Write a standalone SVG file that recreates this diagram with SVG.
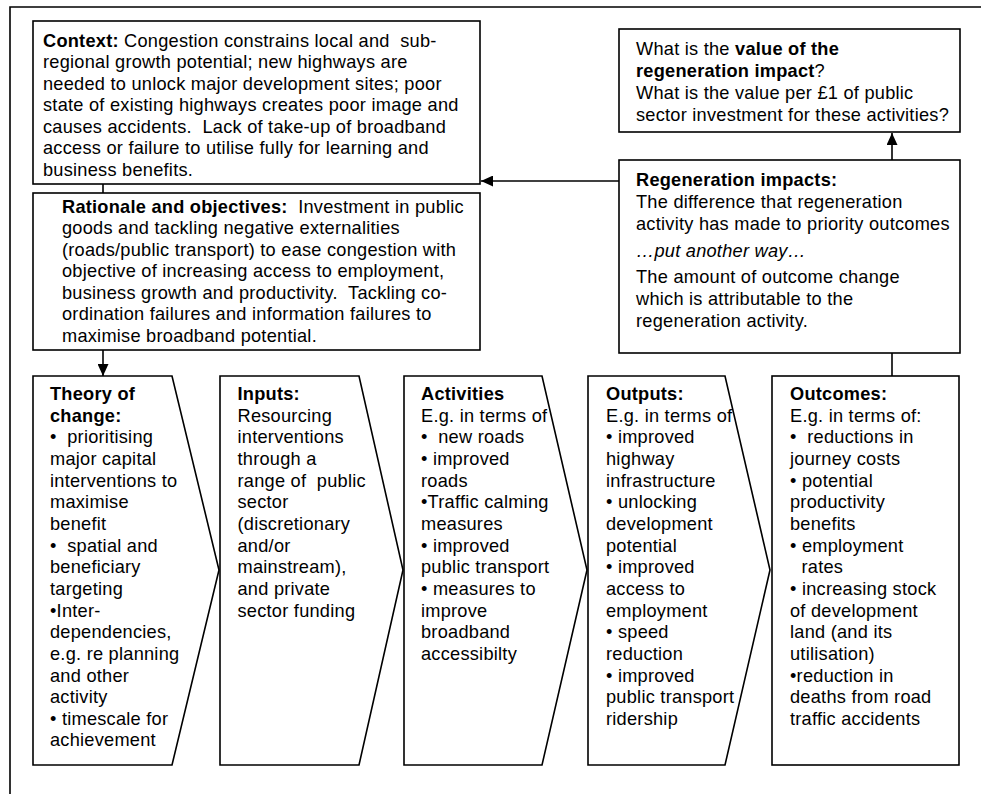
<svg xmlns="http://www.w3.org/2000/svg" width="981" height="794" viewBox="0 0 981 794">
  <style>
    .box { fill: #ffffff; stroke: #000000; stroke-width: 1.6; }
    .frame { fill: none; stroke: #000000; stroke-width: 1.6; }
    .link { fill: none; stroke: #000000; stroke-width: 1.6; }
    text { font-family: "Liberation Sans", Arial, sans-serif; font-size: 18.2px; letter-spacing: 0.25px; fill: #000000; white-space: pre; }
    .b { font-weight: bold; }
    .i { font-style: italic; }
  </style>
  <defs>
    <marker id="arrow" viewBox="0 0 12 11" refX="12" refY="5.5" markerWidth="12" markerHeight="11" markerUnits="userSpaceOnUse" orient="auto">
      <path d="M0,0 L12,5.5 L0,11 z" fill="#000000"/>
    </marker>
  </defs>

  <rect width="981" height="794" fill="#ffffff"/>
  <!-- outer frame (runs off the right and bottom edges) -->
  <path class="frame" d="M10,794 L10,7 L981,7"/>

  <!-- connectors -->
  <g id="connectors">
    <line class="link" x1="103" y1="184" x2="103" y2="193"/>
    <line class="link" x1="103" y1="350" x2="103" y2="376" marker-end="url(#arrow)"/>
    <line class="link" x1="619" y1="181" x2="481" y2="181" marker-end="url(#arrow)"/>
    <line class="link" x1="892" y1="160" x2="892" y2="133" marker-end="url(#arrow)"/>
    <line class="link" x1="892" y1="353" x2="892" y2="376"/>
  </g>

  <g id="context">
    <rect class="box" x="33" y="21" width="447" height="163"/>
    <text x="43" y="46.5"><tspan class="b">Context:</tspan> Congestion constrains local and  sub-</text>
    <text x="43" y="68">regional growth potential; new highways are</text>
    <text x="43" y="89.5">needed to unlock major development sites; poor</text>
    <text x="43" y="111">state of existing highways creates poor image and</text>
    <text x="43" y="132.5">causes accidents.  Lack of take-up of broadband</text>
    <text x="43" y="154">access or failure to utilise fully for learning and</text>
    <text x="43" y="175.5">business benefits.</text>
  </g>

  <g id="rationale">
    <rect class="box" x="33" y="193" width="447" height="157"/>
    <text x="62" y="212.5"><tspan class="b">Rationale and objectives:</tspan>  Investment in public</text>
    <text x="62" y="234">goods and tackling negative externalities</text>
    <text x="62" y="255.5">(roads/public transport) to ease congestion with</text>
    <text x="62" y="277">objective of increasing access to employment,</text>
    <text x="62" y="298.5">business growth and productivity.  Tackling co-</text>
    <text x="62" y="320">ordination failures and information failures to</text>
    <text x="62" y="341.5">maximise broadband potential.</text>
  </g>

  <g id="value">
    <rect class="box" x="619" y="29" width="341" height="103"/>
    <text x="636" y="54.5">What is the <tspan class="b">value of the</tspan></text>
    <text x="636" y="76.5"><tspan class="b">regeneration impact</tspan>?</text>
    <text x="636" y="99">What is the value per £1 of public</text>
    <text x="636" y="121">sector investment for these activities?</text>
  </g>

  <g id="impacts">
    <rect class="box" x="619" y="160" width="341" height="193"/>
    <text x="636" y="186" class="b">Regeneration impacts:</text>
    <text x="636" y="208">The difference that regeneration</text>
    <text x="636" y="230">activity has made to priority outcomes</text>
    <text x="636" y="256.5" class="i">…put another way…</text>
    <text x="636" y="283">The amount of outcome change</text>
    <text x="636" y="304.5">which is attributable to the</text>
    <text x="636" y="326.5">regeneration activity.</text>
  </g>

  <g id="theory">
    <path class="box" d="M33,376 L172,376 L219,570 L172,765 L33,765 Z"/>
    <text x="50" y="400" class="b">Theory of</text>
    <text x="50" y="421.7" class="b">change:</text>
    <text x="50" y="443.3">•  prioritising</text>
    <text x="50" y="465">major capital</text>
    <text x="50" y="486.6">interventions to</text>
    <text x="50" y="508.3">maximise</text>
    <text x="50" y="530">benefit</text>
    <text x="50" y="551.6">•  spatial and</text>
    <text x="50" y="573.2">beneficiary</text>
    <text x="50" y="594.9">targeting</text>
    <text x="50" y="616.5">•Inter-</text>
    <text x="50" y="638.2">dependencies,</text>
    <text x="50" y="659.8">e.g. re planning</text>
    <text x="50" y="681.5">and other</text>
    <text x="50" y="703.1">activity</text>
    <text x="50" y="724.8">• timescale for</text>
    <text x="50" y="746.4">achievement</text>
  </g>

  <g id="inputs">
    <path class="box" d="M220,376 L359,376 L403,570 L359,765 L220,765 Z"/>
    <text x="237.5" y="400" class="b">Inputs:</text>
    <text x="237.5" y="421.7">Resourcing</text>
    <text x="237.5" y="443.3">interventions</text>
    <text x="237.5" y="465">through a</text>
    <text x="237.5" y="486.6">range of  public</text>
    <text x="237.5" y="508.3">sector</text>
    <text x="237.5" y="530">(discretionary</text>
    <text x="237.5" y="551.6">and/or</text>
    <text x="237.5" y="573.2">mainstream),</text>
    <text x="237.5" y="594.9">and private</text>
    <text x="237.5" y="616.5">sector funding</text>
  </g>

  <g id="activities">
    <path class="box" d="M404,376 L542,376 L587,570 L542,765 L404,765 Z"/>
    <text x="421" y="400" class="b">Activities</text>
    <text x="421" y="421.7">E.g. in terms of</text>
    <text x="421" y="443.3">•  new roads</text>
    <text x="421" y="465">• improved</text>
    <text x="421" y="486.6">roads</text>
    <text x="421" y="508.3">•Traffic calming</text>
    <text x="421" y="530">measures</text>
    <text x="421" y="551.6">• improved</text>
    <text x="421" y="573.2">public transport</text>
    <text x="421" y="594.9">• measures to</text>
    <text x="421" y="616.5">improve</text>
    <text x="421" y="638.2">broadband</text>
    <text x="421" y="659.8">accessibilty</text>
  </g>

  <g id="outputs">
    <path class="box" d="M588,376 L725,376 L770,570 L725,765 L588,765 Z"/>
    <text x="606" y="400" class="b">Outputs:</text>
    <text x="606" y="421.7">E.g. in terms of</text>
    <text x="606" y="443.3">• improved</text>
    <text x="606" y="465">highway</text>
    <text x="606" y="486.6">infrastructure</text>
    <text x="606" y="508.3">• unlocking</text>
    <text x="606" y="530">development</text>
    <text x="606" y="551.6">potential</text>
    <text x="606" y="573.2">• improved</text>
    <text x="606" y="594.9">access to</text>
    <text x="606" y="616.5">employment</text>
    <text x="606" y="638.2">• speed</text>
    <text x="606" y="659.8">reduction</text>
    <text x="606" y="681.5">• improved</text>
    <text x="606" y="703.1">public transport</text>
    <text x="606" y="724.8">ridership</text>
  </g>

  <g id="outcomes">
    <rect class="box" x="772" y="376" width="187" height="389"/>
    <text x="790" y="400" class="b">Outcomes:</text>
    <text x="790" y="421.7">E.g. in terms of:</text>
    <text x="790" y="443.3">•  reductions in</text>
    <text x="790" y="465">journey costs</text>
    <text x="790" y="486.6">• potential</text>
    <text x="790" y="508.3">productivity</text>
    <text x="790" y="530">benefits</text>
    <text x="790" y="551.6">• employment</text>
    <text x="801.5" y="573.2">rates</text>
    <text x="790" y="594.9">• increasing stock</text>
    <text x="790" y="616.5">of development</text>
    <text x="790" y="638.2">land (and its</text>
    <text x="790" y="659.8">utilisation)</text>
    <text x="790" y="681.5">•reduction in</text>
    <text x="790" y="703.1">deaths from road</text>
    <text x="790" y="724.8">traffic accidents</text>
  </g>
</svg>
